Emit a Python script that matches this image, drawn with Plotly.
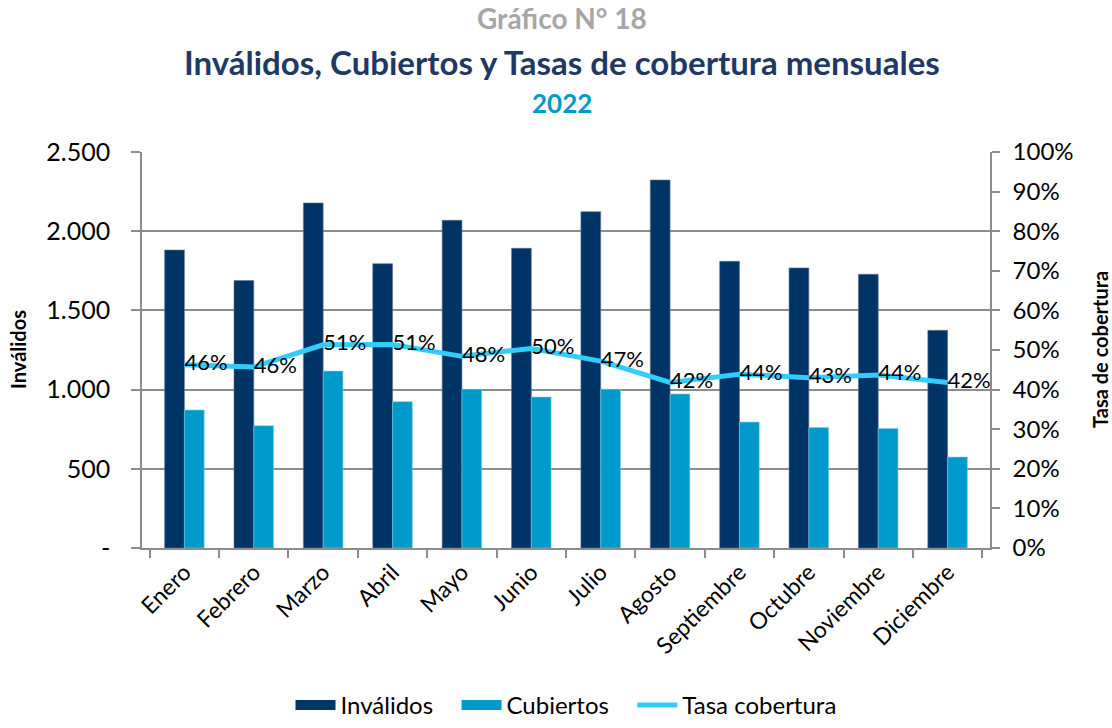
import plotly.graph_objects as go

# -------------------------
# Data
# -------------------------
MESES = ["Enero", "Febrero", "Marzo", "Abril", "Mayo", "Junio", "Julio",
         "Agosto", "Septiembre", "Octubre", "Noviembre", "Diciembre"]
INVALIDOS = [1881, 1688, 2178, 1795, 2069, 1892, 2123, 2323, 1810, 1768, 1728, 1374]
CUBIERTOS = [871, 772, 1117, 924, 1002, 953, 1002, 972, 795, 760, 755, 574]
TASA = [0.463, 0.457, 0.513, 0.514, 0.484, 0.504, 0.472, 0.418, 0.439, 0.430, 0.437, 0.418]

Y_TICKS = [0, 500, 1000, 1500, 2000, 2500]
Y_TICK_LABELS = ["-", "500", "1.000", "1.500", "2.000", "2.500"]

FONT = "Lato, 'Open Sans', sans-serif"
GRID = "#8c8c8c"
C_INV = "#003366"
C_CUB = "#0099cc"
C_TASA = "#33ccff"

fig = go.Figure()

fig.add_trace(go.Bar(
    x=MESES, y=INVALIDOS, name="Inválidos", showlegend=False,
    marker=dict(color=C_INV, line=dict(color="#5a7594", width=0.6)),
))
fig.add_trace(go.Bar(
    x=MESES, y=CUBIERTOS, name="Cubiertos", showlegend=False,
    marker=dict(color=C_CUB, line=dict(color="#7fcce6", width=0.6)),
))
fig.add_trace(go.Scatter(
    x=MESES, y=TASA, name="Tasa cobertura", yaxis="y2",
    mode="lines+text", showlegend=False,
    line=dict(color=C_TASA, width=5),
    text=[f"{round(v * 100)}%" for v in TASA],
    textposition="middle right",
    textfont=dict(size=22, color="#000000", family=FONT),
    cliponaxis=False,
))

# legend entries (wide swatches like the original); nbsp padding spreads the items
PAD = "\u00a0" * 3
for name, color, w in [("Inválidos" + PAD, C_INV, 17), ("Cubiertos" + PAD, C_CUB, 17),
                       ("Tasa cobertura", C_TASA, 5)]:
    fig.add_trace(go.Scatter(x=[None], y=[None], mode="lines", name=name,
                             line=dict(color=color, width=w)))

# paper y: 1 = top of plot (152px), plot height 396px
def py(px):
    return (548 - px) / 396

fig.update_layout(annotations=[
    dict(text="<b>Gráfico N° 18</b>", xref="paper", yref="paper", x=0.4955, y=py(18),
         yanchor="middle", showarrow=False, font=dict(size=28, color="#a6a6a6", family=FONT)),
    dict(text="<b>Inválidos, Cubiertos y Tasas de cobertura mensuales</b>", xref="paper",
         yref="paper", x=0.4955, y=py(62), yanchor="middle", showarrow=False,
         font=dict(size=33, color="#1f3864", family=FONT)),
    dict(text="<b>2022</b>", xref="paper", yref="paper", x=0.4955, y=py(103),
         yanchor="middle", showarrow=False, font=dict(size=26, color=C_CUB, family=FONT)),
    dict(text="<b>Inválidos</b>", xref="paper", yref="paper", x=0, xshift=-124, y=0.5,
         xanchor="center", yanchor="middle", textangle=-90, showarrow=False,
         font=dict(size=20, color="#000000", family=FONT)),
    dict(text="<b>Tasa de cobertura</b>", xref="paper", yref="paper", x=1, xshift=110, y=0.5,
         xanchor="center", yanchor="middle", textangle=-90, showarrow=False,
         font=dict(size=20, color="#000000", family=FONT)),
])

fig.update_layout(
    width=1112, height=728,
    margin=dict(l=142, r=122, t=152, b=180, autoexpand=False),
    paper_bgcolor="white", plot_bgcolor="white",
    font=dict(family=FONT, size=22, color="#000000"),
    barmode="group", bargap=0.43, bargroupgap=0,
    xaxis=dict(
        tickangle=-45, showline=True, linecolor=GRID, linewidth=1.5,
        ticks="outside", tickson="boundaries", ticklen=8, tickcolor=GRID,
        tickwidth=1.5, showgrid=False, tickfont=dict(size=23), automargin=False,
    ),
    yaxis=dict(
        range=[0, 2500], tickvals=Y_TICKS, ticktext=Y_TICK_LABELS,
        showgrid=True, gridcolor=GRID, gridwidth=1.5,
        showline=True, linecolor=GRID, linewidth=1.5,
        ticks="outside", ticklen=9, tickcolor=GRID, tickwidth=1.5,
        ticklabelstandoff=16,
        tickfont=dict(size=25), zeroline=False, automargin=False,
    ),
    yaxis2=dict(
        overlaying="y", side="right", range=[0, 1], dtick=0.1, tickformat=".0%",
        showgrid=False, showline=True, linecolor=GRID, linewidth=1.5,
        ticks="outside", ticklen=8, tickcolor=GRID, tickwidth=1.5,
        ticklabelstandoff=8,
        tickfont=dict(size=24), zeroline=False, automargin=False,
    ),
    legend=dict(orientation="h", x=0.5, xanchor="center", y=0.0, yref="container",
                yanchor="bottom", font=dict(size=24), traceorder="normal",
                itemwidth=40),
)

# drop the default 8px page margin so the figure fills the window exactly
fig.write_html("out.html", config={"displayModeBar": False},
               post_script="document.body.style.margin='0';")
